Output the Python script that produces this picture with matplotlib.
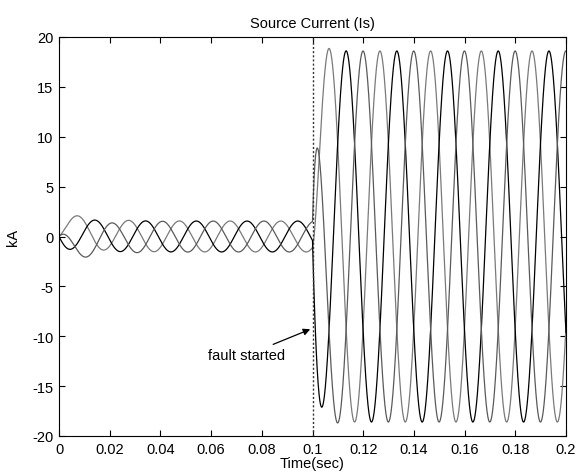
import numpy as np
import matplotlib
matplotlib.use("Agg")
import matplotlib.pyplot as plt

# ---- values ----
FREQ_HZ = 50.0
T_START = 0.0
T_END = 0.2
T_FAULT = 0.1
PRE_AMPL_KA = 1.55
POST_AMPL_KA = 18.6
PRE_PHASE_DEG = [-45.0, -165.0, 75.0]
POST_PHASE_DEG = [-28.8, -148.8, 91.2]
PRE_TAU_S = 0.010
POST_TAU_S = 0.0019
PHASE_COLORS = ["#7a7a7a", "#000000", "#5a5a5a"]

X_TICKS = [0, 0.02, 0.04, 0.06, 0.08, 0.1, 0.12, 0.14, 0.16, 0.18, 0.2]
X_TICK_LABELS = ["0", "0.02", "0.04", "0.06", "0.08", "0.1", "0.12", "0.14", "0.16", "0.18", "0.2"]
Y_TICKS = [-20, -15, -10, -5, 0, 5, 10, 15, 20]
Y_TICK_LABELS = ["-20", "-15", "-10", "-5", "0", "5", "10", "15", "20"]

TITLE = "Source Current (Is)"
XLABEL = "Time(sec)"
YLABEL = "kA"
ANNOT_TEXT = "fault started"
ANNOT_XY = (0.0991, -9.3)
ANNOT_TEXT_XY = (0.0588, -11.9)

# ---- build waveforms (three-phase currents) ----
w = 2 * np.pi * FREQ_HZ
t = np.linspace(T_START, T_END, 8001)


def phase_current(pre_deg, post_deg):
    p = np.deg2rad(pre_deg)
    q = np.deg2rad(post_deg)
    pre = PRE_AMPL_KA * (np.sin(w * t + p) - np.sin(p) * np.exp(-t / PRE_TAU_S))
    i_f = PRE_AMPL_KA * (np.sin(w * T_FAULT + p) - np.sin(p) * np.exp(-T_FAULT / PRE_TAU_S))
    post_ss = POST_AMPL_KA * np.sin(w * t + q)
    ss_at_fault = POST_AMPL_KA * np.sin(w * T_FAULT + q)
    post = post_ss + (i_f - ss_at_fault) * np.exp(-(t - T_FAULT) / POST_TAU_S)
    return np.where(t < T_FAULT, pre, post)


FS = 10.5
plt.rcParams["font.family"] = ["Liberation Sans", "DejaVu Sans"]
fig = plt.figure(figsize=(5.79, 4.77), dpi=100)
ax = fig.add_axes([59 / 579, 1 - 437 / 477, (566 - 59) / 579, (437 - 38) / 477])

for pre_deg, post_deg, col in zip(PRE_PHASE_DEG, POST_PHASE_DEG, PHASE_COLORS):
    ax.plot(t, phase_current(pre_deg, post_deg), color=col, lw=0.9)

ax.axvline(T_FAULT, color="#333333", lw=1.0, ls=(0, (1.5, 1.5)))

ax.annotate(ANNOT_TEXT, xy=ANNOT_XY, xytext=ANNOT_TEXT_XY, fontsize=FS,
            va="center", ha="left",
            arrowprops=dict(arrowstyle="-|>", color="black", lw=0.9,
                            shrinkA=2, shrinkB=0, mutation_scale=10))

ax.set_xlim(T_START, T_END)
ax.set_ylim(-20, 20)
ax.set_xticks(X_TICKS)
ax.set_xticklabels(X_TICK_LABELS)
ax.set_yticks(Y_TICKS)
ax.set_yticklabels(Y_TICK_LABELS)
ax.tick_params(direction="in", length=4, width=0.8, top=True, right=True,
               labelsize=FS, colors="black", pad=4)
for s in ax.spines.values():
    s.set_linewidth(0.8)
ax.set_title(TITLE, fontsize=FS, pad=7)
ax.set_xlabel(XLABEL, fontsize=FS, labelpad=0)
ax.set_ylabel(YLABEL, fontsize=FS, labelpad=9)

fig.savefig("out.png", dpi=100)
